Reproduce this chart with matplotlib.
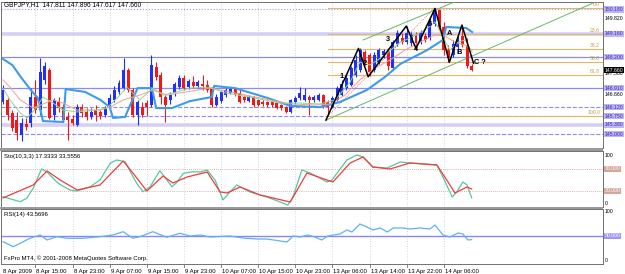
import matplotlib
matplotlib.use('Agg')
import matplotlib.pyplot as plt
import numpy as np

plt.rcParams['font.family'] = ['Liberation Sans', 'DejaVu Sans']

W, H = 625, 274

# ---- GBPJPY H1 bars (8 Apr 08:00 .. 14 Apr 13:00) ----
opens = [146.33, 146.42, 145.88, 145.58, 144.96, 145.42, 145.46, 146.54, 146.00, 147.25,
         147.66, 145.79, 146.33, 146.12, 145.71, 145.63, 145.38, 146.12, 145.92, 145.71,
         146.00, 145.92, 145.79, 146.12, 146.42, 146.75, 146.91, 147.66, 146.83, 145.79,
         146.12, 146.29, 146.21, 147.79, 147.45, 146.54, 146.42, 146.71, 146.95, 147.33,
         146.95, 147.16, 147.00, 147.08, 147.04, 146.91, 146.21, 146.37, 146.62, 146.71,
         146.87, 146.71, 146.54, 146.37, 146.54, 146.42, 146.33, 146.33, 146.33, 146.29,
         146.21, 146.12, 145.92, 146.33, 146.50, 146.42, 146.54, 146.42, 146.42, 146.62,
         146.33, 146.12, 146.42, 146.62, 146.91, 147.04, 147.45, 147.66, 148.41, 148.28,
         147.66, 147.99, 148.28, 148.45, 147.74, 148.74, 148.99, 148.82, 148.78, 149.12,
         148.82, 149.07, 148.99, 149.57, 150.15, 149.45, 148.49, 148.28, 148.62, 149.07,
         148.70, 147.811]
highs = [147.04, 146.50, 146.00, 145.92, 145.67, 145.67, 146.91, 147.25, 148.16, 147.99,
         147.74, 146.50, 146.54, 146.25, 145.92, 145.79, 146.25, 146.25, 146.08, 146.08,
         146.21, 146.00, 146.17, 146.66, 147.00, 147.25, 148.16, 147.74, 146.91, 146.42,
         146.33, 146.42, 148.28, 147.99, 147.58, 146.62, 146.75, 147.16, 147.45, 147.45,
         147.29, 147.41, 147.25, 147.45, 147.25, 146.95, 146.66, 146.83, 146.91, 146.95,
         146.91, 146.83, 146.62, 146.62, 146.58, 146.46, 146.42, 146.37, 146.42, 146.33,
         146.25, 146.17, 146.46, 146.58, 146.95, 146.91, 146.62, 146.62, 146.71, 146.66,
         146.42, 146.58, 147.00, 147.25, 147.45, 147.83, 148.28, 148.58, 148.49, 148.37,
         148.41, 148.58, 148.53, 148.58, 148.91, 149.32, 149.20, 149.49, 149.24, 149.24,
         149.32, 149.20, 149.82, 150.24, 150.20, 149.66, 148.70, 148.91, 149.07, 149.53,
         148.99, 147.896]
lows = [146.25, 145.58, 145.13, 144.75, 144.71, 145.17, 145.29, 145.88, 145.79, 147.08,
        145.63, 145.58, 145.92, 145.50, 144.75, 145.38, 145.33, 145.71, 145.58, 145.63,
        145.54, 145.63, 145.71, 146.04, 146.33, 146.66, 146.83, 146.75, 145.71, 145.38,
        145.71, 145.75, 146.12, 147.25, 146.25, 145.50, 146.25, 146.58, 146.87, 146.83,
        146.87, 146.91, 146.91, 146.83, 146.75, 146.12, 146.17, 146.29, 146.54, 146.66,
        146.58, 146.29, 146.33, 146.33, 146.12, 146.17, 146.17, 146.12, 146.12, 146.04,
        146.00, 145.88, 145.88, 146.25, 146.42, 146.37, 145.79, 146.33, 146.37, 146.08,
        145.75, 146.08, 146.37, 146.58, 146.83, 147.00, 147.37, 147.58, 147.87, 147.41,
        147.58, 147.91, 148.16, 147.66, 147.66, 148.66, 148.74, 148.74, 148.66, 148.58,
        148.74, 148.82, 148.91, 149.49, 149.32, 148.28, 147.99, 148.20, 148.37, 148.62,
        147.74, 147.617]
closes = [146.83, 145.79, 145.25, 145.04, 145.46, 145.29, 146.54, 146.00, 147.58, 147.83,
          145.67, 146.42, 146.08, 145.58, 145.58, 145.46, 146.12, 145.88, 145.71, 145.92,
          145.79, 145.75, 146.08, 146.50, 146.83, 147.12, 147.66, 146.83, 145.79, 146.33,
          145.79, 146.12, 147.87, 147.37, 146.54, 146.21, 146.62, 147.08, 147.33, 146.91,
          147.20, 147.00, 147.16, 147.00, 146.83, 146.21, 146.54, 146.75, 146.83, 146.87,
          146.66, 146.33, 146.42, 146.54, 146.21, 146.21, 146.25, 146.21, 146.21, 146.08,
          146.08, 145.92, 146.42, 146.50, 146.71, 146.62, 146.42, 146.54, 146.62, 146.12,
          146.12, 146.50, 146.91, 147.08, 147.33, 147.74, 148.08, 148.49, 147.95, 147.58,
          148.28, 148.49, 148.45, 147.83, 148.82, 149.20, 148.82, 149.20, 149.12, 148.78,
          149.20, 148.91, 149.66, 150.15, 149.45, 148.49, 148.16, 148.74, 148.91, 148.70,
          147.83, 147.660]

# moving averages on the price chart (read at turning points)
ma_blue_i = [0, 2, 4, 6, 7.5, 8.6, 13, 13.5, 17.7, 21, 23, 23.7, 26.3, 29, 32.1, 33, 36.4,
             40.3, 45, 45.5, 50, 57, 61.9, 68.3, 72.6, 78.4, 82.3, 85.6, 87.7, 91.4, 94.8,
             95.5, 99.8, 101.1]
ma_blue = [148.12, 147.87, 147.33, 146.83, 146.50, 145.54, 145.50, 146.87, 146.75, 146.42,
           146.12, 145.67, 145.71, 146.91, 146.91, 146.08, 146.08, 146.37, 146.54, 147.00,
           146.91, 146.50, 146.17, 146.12, 146.33, 146.83, 147.37, 147.91, 148.12, 148.49,
           148.91, 149.45, 149.41, 149.24]
ma_red_i = [0, 1.5, 3.7, 6.5, 10.8, 12.9, 15.9, 20.9, 23.1, 25.9, 29.5, 32.3, 35.3, 38.1,
            44.6, 48.9, 55.4, 61.9, 67.2, 70.5, 73.7, 76.9, 80.2, 83.4, 86.6, 89.9, 93.1,
            95.3, 97.4, 99.6, 101.1]
ma_red = [147.25, 146.95, 146.42, 146.08, 146.42, 146.29, 146.00, 146.00, 146.12, 146.42,
          146.62, 146.83, 146.62, 146.71, 146.91, 146.75, 146.50, 146.25, 146.21, 146.25,
          146.62, 147.25, 147.74, 148.08, 148.49, 148.82, 149.12, 149.07, 148.82, 148.70,
          148.49]
ma_green_i = [0, 1.5, 3.7, 5.2, 7.3, 8.6, 10.8, 12.9, 15.9, 20.3, 22.4, 25.2, 26.7, 29.5,
              32.3, 34.5, 37.5, 40.3, 44.6, 47.8, 53.2, 59.7, 64, 68.3, 71.6, 74.8, 76.9,
              79.1, 82.3, 85.6, 87.7, 90.9, 93.1, 94.6, 96.3, 98.1, 99.6, 101.1]
ma_green = [146.91, 146.42, 145.88, 145.67, 146.12, 146.54, 146.29, 146.00, 145.92, 146.00,
            146.08, 146.62, 146.95, 146.42, 146.91, 146.62, 146.75, 146.91, 146.95, 146.71,
            146.54, 146.29, 146.29, 146.25, 146.42, 147.16, 147.99, 147.87, 148.28, 148.82,
            148.99, 149.32, 149.66, 149.12, 148.49, 148.82, 148.91, 148.41]

# user lines: horizontal levels
h_levels = [150.18, 149.16, 148.20, 146.91, 146.12, 145.75, 145.38, 145.00]
# fibo retracement between swing low and high
fib_low_i, fib_high_i = 70, 93
fib_low, fib_high = 145.75, 150.24
fib_ratios = [0.0, 23.6, 38.2, 50.0, 61.8, 100.0]
# Elliott count
wave_i = [69.6, 76.6, 78.7, 86.9, 89, 93.1, 96.2, 98.9, 101.4]
wave_p = [145.58, 148.56, 147.38, 149.49, 148.56, 150.22, 147.99, 149.53, 147.94]
wave_lbl = ['1', '2', '3', '4', '5', 'A', 'B', 'C ?']
wave_lbl_i = [72.6, 77.6, 82.5, 88.6, 91.6, 95.7, 97.8, 101.6]
wave_lbl_p = [147.41, 147.95, 148.95, 148.53, 149.57, 149.16, 148.37, 147.99]
# channel lines
chan_lo_i, chan_lo_p = [69.6, 127.2], [145.58, 150.45]
chan_hi_i, chan_hi_p = [77.6, 97.4], [148.91, 150.50]
# price scale labels not hidden by line tags
scale_lbls = [149.82, 147.50, 146.66]

# Stochastic(10,3,3)
sto_k_i = [0, 3.7, 5.1, 6.5, 8.3, 9.4, 11.9, 14.4, 15.9, 18.8, 20.9, 23.1, 24.5, 26.3, 28.8,
           30.2, 31.7, 33.8, 36.4, 37.4, 38.9, 41, 42.5, 44, 45.7, 47.4, 48.9, 50.4, 53.2,
           56.9, 61.4, 62.5, 64.4, 66.2, 69.8, 70.9, 74.1, 76.3, 77.6, 79.7, 82.8, 85.6,
           87.7, 93.5, 94.8, 96.8, 97.8, 99.1, 100, 101]
sto_k = [19.6, 10.5, 16.7, 34.9, 70, 65.1, 44, 31.8, 30, 37.8, 50, 80.4, 86.4, 83.3, 44,
         28.7, 37.8, 66.9, 37.8, 45.1, 62.2, 65.1, 64.5, 68.2, 50, 13.6, 28.2, 40.9, 28.2,
         19.1, 4.5, 19.1, 68.2, 62.7, 46.4, 50, 86.4, 95.5, 91.8, 73.6, 71.8, 82.7, 80.9,
         77.3, 55.5, 19.1, 28.2, 46.4, 40.9, 17.33]
sto_d_i = [0, 6.5, 9.5, 12.3, 16, 20.9, 25.9, 28, 31, 34.5, 36.6, 39.7, 44, 46.8, 48.3,
           51.1, 55.4, 61.9, 65.5, 69.8, 71.1, 74.8, 77.6, 79.7, 83.4, 87.7, 93.5, 95.9,
           97.4, 100, 101]
sto_d = [17.3, 40.9, 66.4, 50, 31.8, 40.9, 84.5, 62.7, 30, 57.3, 44.5, 55.5, 64.5, 28.2,
         26.4, 37.3, 22.7, 10, 62.7, 50, 46.4, 80.9, 91.8, 73.6, 70, 80.9, 77.3, 46.4, 26.4,
         37.3, 33.56]
sto_levels = [70, 30]

# RSI(14)
rsi_i = [0, 2.2, 3.7, 5.8, 8, 9.5, 11.6, 13.8, 17.2, 20.9, 23.7, 25.9, 28, 29.5, 32.3,
         35.3, 38.1, 40.3, 42.5, 44.6, 48.9, 51.7, 54.7, 56.9, 61.2, 62.5, 64, 65.7, 67.2,
         68.7, 70, 72.6, 74.1, 75.2, 76.9, 78.4, 79.7, 81.3, 82.8, 84.1, 86.2, 87.7, 89.9,
         92, 93.1, 94.8, 96.3, 98.1, 99.1, 100.2, 101]
rsi = [39.8, 30.9, 37, 45.9, 51.8, 42.9, 48.8, 45.9, 45.9, 48.8, 51.8, 57.7, 45.9, 48.8,
       57.7, 47.7, 54.8, 50, 51.8, 48.2, 50, 46.4, 44.6, 44.6, 39.3, 50, 48.2, 51.8, 48.2,
       42.9, 50, 53.6, 60.7, 57.1, 71.4, 66.1, 60.7, 64.3, 57.1, 64.3, 64.3, 62.5, 64.3,
       62.5, 69.6, 51.8, 48.2, 55.4, 53.6, 42.9, 43.57]

time_lbls = ['8 Apr 15:00', '8 Apr 23:00', '9 Apr 07:00', '9 Apr 15:00', '9 Apr 23:00',
             '10 Apr 07:00', '10 Apr 15:00', '10 Apr 23:00', '13 Apr 06:00', '13 Apr 14:00',
             '13 Apr 22:00', '14 Apr 06:00']
time_lbl_i = [7, 15, 23, 31, 39, 47, 55, 63, 71, 79, 87, 95]


def rect(x0, y0, x1, y1):
    return [x0 / W, 1 - y1 / H, (x1 - x0) / W, (y1 - y0) / H]


fig = plt.figure(figsize=(W / 100, H / 100), dpi=100)
fig.patch.set_facecolor('white')

XL = (-0.43, 129.3)
GRID = dict(color='#c8c8c8', lw=0.6, ls=(0, (1, 2)), zorder=0)
FS = 4.3     # panel texts
FA = 3.7     # price scale texts
TAG = 'square,pad=0.12'

ax = fig.add_axes(rect(1, 2, 603, 148))
ax2 = fig.add_axes(rect(1, 151, 603, 207))
ax3 = fig.add_axes(rect(1, 209, 603, 264))
for a in (ax, ax2, ax3):
    a.set_xlim(*XL)
    a.set_xticks([])
    a.set_yticks([])
    for s in a.spines.values():
        s.set_color('#707070')
        s.set_linewidth(0.7)
    for t in time_lbl_i:
        a.axvline(t, **GRID)

# separators between windows
for y0, y1 in [(148, 151), (207, 209)]:
    fig.patches.append(plt.Rectangle((0, 1 - y1 / H), 603 / W, (y1 - y0) / H,
                                     transform=fig.transFigure, color='#9a9a9a', lw=0))

# ---- main price window ----
ax.set_ylim(144.42, 150.49)
idx = np.arange(len(opens))
o = np.array(opens); c = np.array(closes)
up = c >= o
cols = np.where(up, '#1f2fff', '#f01818')
ax.vlines(idx, lows, highs, colors=cols, lw=0.8, zorder=4)
body_lo = np.minimum(o, c)
body_h = np.maximum(np.abs(c - o), 0.012)
ax.bar(idx, body_h, bottom=body_lo, width=0.64, color=cols, lw=0, zorder=5)

h_style = [('#9a9ae6', 0.8, ':'), ('#d6cff4', 2.6, '-'), ('#8c8cf0', 0.9, '-'),
           ('#8c8cf0', 0.9, '-'), ('#8c8cf0', 0.8, '--'), ('#8c8cf0', 0.8, '--'),
           ('#d6cff4', 2.6, '-'), ('#8c8cf0', 0.8, '--')]
for p, (col, lw, ls) in zip(h_levels, h_style):
    ax.axhline(p, color=col, lw=lw, ls=ls, zorder=1)

ax.plot(ma_blue_i, ma_blue, color='#3d9be9', lw=1.5, zorder=6)
ax.plot(ma_red_i, ma_red, color='#f4a090', lw=0.7, zorder=6)
ax.plot(ma_green_i, ma_green, color='#8fd68f', lw=0.7, zorder=6)

for r in fib_ratios:
    lv = fib_high - r / 100 * (fib_high - fib_low)
    ax.plot([fib_low_i, XL[1]], [lv, lv], color='#e5b765', lw=0.8, zorder=2)
    ax.text(128.7, lv + 0.04, f'{r:.1f}', fontsize=FA, color='#c49a50',
            ha='right', va='bottom', zorder=7)
ax.plot([fib_low_i, fib_high_i], [fib_low, fib_high], color='#f05050', lw=0.6,
        ls=(0, (1, 1.5)), zorder=3)

ax.plot(chan_lo_i, chan_lo_p, color='#66b866', lw=0.7, zorder=3)
ax.plot(chan_hi_i, chan_hi_p, color='#66b866', lw=0.7, zorder=3)

ax.plot(wave_i, wave_p, color='black', lw=1.1, zorder=8)
for s, xi, yp in zip(wave_lbl, wave_lbl_i, wave_lbl_p):
    ax.text(xi, yp, s, fontsize=5.3, fontweight='bold', color='black',
            ha='left', va='center', zorder=9)

ax.text(0.3, 150.38, 'GBPJPY,H1  147.811 147.896 147.617 147.660', fontsize=4.7,
        color='black', va='center', ha='left')

# right price scale
yt = ax.get_yaxis_transform()
XA = 1.003
for p in scale_lbls:
    ax.text(XA, p, f'{p:.3f}', transform=yt, fontsize=FA, va='center', ha='left',
            clip_on=False)
for p in h_levels:
    ax.text(XA, p, f'{p:.3f}', transform=yt, fontsize=FA, va='center', ha='left',
            color='#3a2cb0', clip_on=False,
            bbox=dict(boxstyle=TAG, fc='#bdb5f6', ec='none'))
ax.text(XA, closes[-1], f'{closes[-1]:.3f}', transform=yt, fontsize=FA, va='center',
        ha='left', color='white', clip_on=False,
        bbox=dict(boxstyle=TAG, fc='black', ec='none'))

# ---- stochastic window ----
ax2.set_ylim(0.9, 102.7)
for lv in sto_levels:
    ax2.axhline(lv, color='#d39a88', lw=0.6, ls=(0, (1, 1.5)), zorder=1)
ax2.plot(sto_k_i, sto_k, color='#55c8a0', lw=0.9, zorder=3)
ax2.plot(sto_d_i, sto_d, color='#f03c3c', lw=0.9, zorder=3)
ax2.text(0.3, 92, 'Sto(10,3,3) 17.3333 33.5556', fontsize=FS, va='center')
yt2 = ax2.get_yaxis_transform()
ax2.text(XA, 94, '100', transform=yt2, fontsize=FA, va='center', clip_on=False)
ax2.text(XA, 8, '0', transform=yt2, fontsize=FA, va='center', clip_on=False)
for lv in sto_levels:
    ax2.text(XA, lv, f'{lv:.3f}', transform=yt2, fontsize=FA, va='center',
             color='white', clip_on=False,
             bbox=dict(boxstyle=TAG, fc='#d6a598', ec='none'))

# ---- RSI window ----
ax3.set_ylim(0, 98.2)
ax3.axhline(50, color='#8a86f6', lw=1.0, zorder=1)
ax3.plot(rsi_i, rsi, color='#5db3f0', lw=0.9, zorder=3)
ax3.text(0.3, 88, 'RSI(14) 43.5696', fontsize=FS, va='center')
ax3.text(0.3, 10, 'FxPro MT4, \u00a9 2001-2008 MetaQuotes Software Corp.', fontsize=FS,
         va='center')
yt3 = ax3.get_yaxis_transform()
ax3.text(XA, 94, '100', transform=yt3, fontsize=FA, va='center', clip_on=False)
ax3.text(XA, 7, '0', transform=yt3, fontsize=FA, va='center', clip_on=False)
ax3.text(XA, 50, '50.000', transform=yt3, fontsize=FA, va='center', color='white',
         clip_on=False, bbox=dict(boxstyle=TAG, fc='#9c98f4', ec='none'))

# time axis
xt = ax3.get_xaxis_transform()
ax3.text(0.0, -0.09, '8 Apr 2009', transform=xt, fontsize=FS, va='top', ha='left',
         clip_on=False)
for t, s in zip(time_lbl_i, time_lbls):
    ax3.text(t + 0.2, -0.09, s, transform=xt, fontsize=FS, va='top', ha='left',
             clip_on=False)
    ax3.plot([t, t], [-0.06, 0], transform=xt, color='#707070', lw=0.6, clip_on=False)

fig.savefig('out.png', dpi=100)
